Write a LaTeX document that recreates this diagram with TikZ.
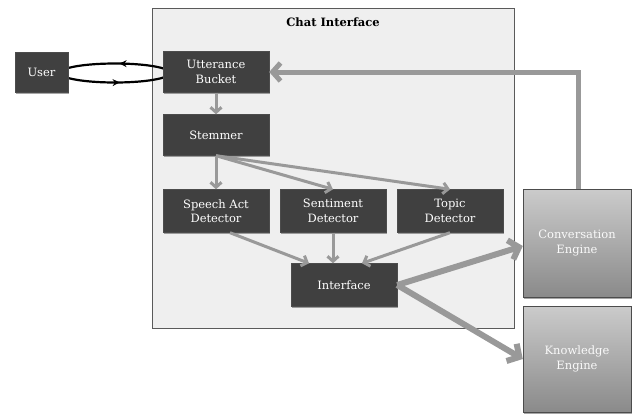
\documentclass[tikz,border=0pt]{standalone}
\usepackage{fontspec}
\setmainfont{DejaVu Serif}
\usetikzlibrary{arrows.meta,shadows,decorations.markings,calc}
\definecolor{boxfill}{HTML}{404040}
\definecolor{chatfill}{HTML}{EFEFEF}
\definecolor{chatborder}{HTML}{5A5A5A}
\definecolor{arrgray}{HTML}{999999}
\definecolor{engtop}{HTML}{CBCBCB}
\definecolor{engbot}{HTML}{8A8A8A}
\tikzset{
  darkbox/.style={draw=black!70, fill=boxfill, text=white, minimum width=106pt, minimum height=41pt,
     align=center, inner sep=1pt, font=\fontsize{11.5}{14.5}\selectfont,
     drop shadow={shadow xshift=1pt, shadow yshift=-1.5pt, opacity=0.35, fill=black}},
  engbox/.style={draw=black!70, top color=engtop, bottom color=engbot, text=white!96!gray,
     minimum width=108pt, minimum height=108pt, align=center, inner sep=1pt,
     font=\fontsize{11.5}{14.5}\selectfont,
     drop shadow={shadow xshift=1pt, shadow yshift=-1.5pt, opacity=0.35, fill=black}},
  thinarr/.style={draw=arrgray, line width=3pt, -{Straight Barb[length=5pt,width=11pt,line width=3pt]}},
  thickarr/.style={draw=arrgray, line width=6pt, -{Straight Barb[length=9pt,width=20pt,line width=6pt]}},
}
\begin{document}
\begin{tikzpicture}[x=1pt,y=-1pt]
\useasboundingbox (0,0) rectangle (632,416);
% chat interface frame
\node[draw=chatborder, fill=chatfill, line width=0.8pt, minimum width=362pt, minimum height=320pt,
      inner sep=0pt, drop shadow={shadow xshift=1pt, shadow yshift=-1pt, opacity=0.25, fill=black}]
      (chat) at (333,168) {};
\node[font=\fontsize{11.5}{14}\selectfont\bfseries] (title) at (333,22) {Chat Interface};
% loop between user and utterance bucket
\coordinate (lc) at (115,73);
\draw[line width=2.2pt, black,
  decoration={markings,
    mark=at position 0.23 with {\arrow{Stealth[length=7pt,width=7pt]}},
    mark=at position 0.77 with {\arrow{Stealth[length=7pt,width=7pt]}}},
  postaction={decorate}] (lc) ellipse [x radius=55pt, y radius=9.5pt];
% nodes
\node[darkbox, minimum width=53pt, minimum height=40pt] (user) at (41.5,72) {User};
\node[darkbox] (ub) at (216,72) {Utterance\\Bucket};
\node[darkbox] (st) at (216,135) {Stemmer};
\node[darkbox, minimum height=43pt] (sa) at (216,211) {Speech Act\\Detector};
\node[darkbox, minimum height=43pt] (se) at (333,211) {Sentiment\\Detector};
\node[darkbox, minimum height=43pt] (tp) at (450,211) {Topic\\Detector};
\node[darkbox, minimum height=43pt] (int) at (344,285) {Interface};
\node[engbox] (ce) at (577,243) {Conversation\\Engine};
\node[engbox, minimum height=106pt] (ke) at (577,359) {Knowledge\\Engine};
% connectors
\draw[thinarr] (ub.south) -- (st.north);
\draw[thinarr] (st.south) -- (sa.north);
\draw[thinarr] (st.south) -- (se.north);
\draw[thinarr] (st.south) -- (tp.north);
\draw[thinarr] ([xshift=14pt]sa.south) -- ([xshift=-35pt]int.north);
\draw[thinarr] (se.south) -- (se.south |- int.north);
\draw[thinarr] (tp.south) -- ([xshift=18pt]int.north);
\draw[thickarr] (int.east) -- ([yshift=-3pt]ce.west);
\draw[thickarr] (int.east) -- (ke.west);
\draw[draw=arrgray, line width=5pt, -{Straight Barb[length=8pt,width=18pt,line width=5pt]}]
  ([xshift=1pt]ce.north) -- ([xshift=1pt]ce.north |- ub.east) -- (ub.east);
\end{tikzpicture}
\end{document}
